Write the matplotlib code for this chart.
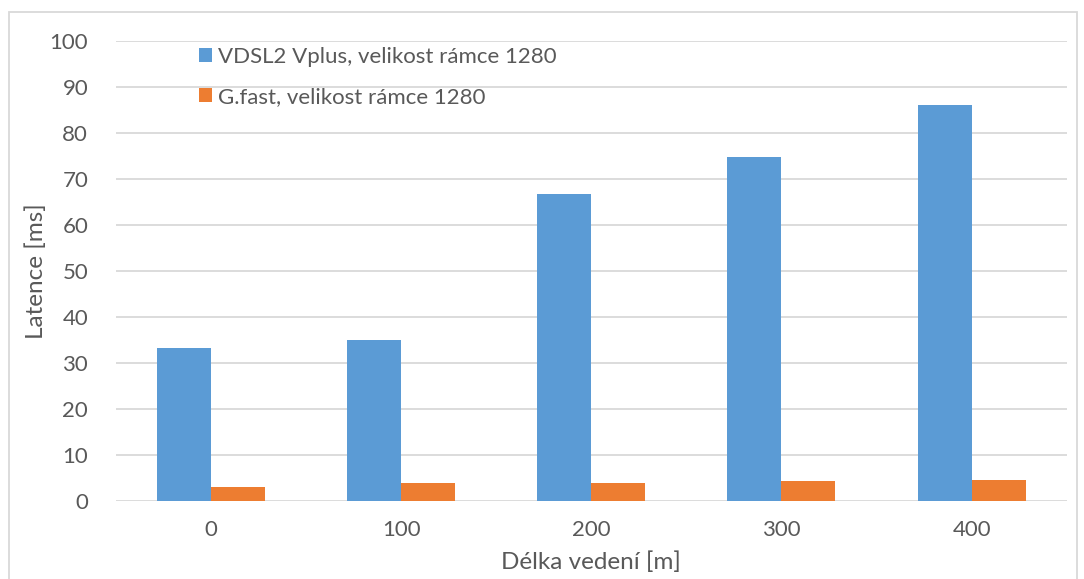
import matplotlib.pyplot as plt
import matplotlib.patches as mpatches
import numpy as np

categories = ["0", "100", "200", "300", "400"]
vdsl2 = [33.3, 35.0, 66.7, 74.8, 86.1]
gfast = [3.0, 3.9, 3.9, 4.3, 4.6]
series_names = ["VDSL2 Vplus, velikost rámce 1280", "G.fast, velikost rámce 1280"]

plt.rcParams["font.family"] = ["Lato", "DejaVu Sans"]
text_color = "#595959"
grid_color = "#d9d9d9"
colors = ["#5b9bd5", "#ed7d31"]

fig = plt.figure(figsize=(10.84, 5.79), dpi=100)
ax = fig.add_axes([0.107, 0.1347, 0.877, 0.7945])

# chart border
fig.patches.append(mpatches.Rectangle((9 / 1084, -0.01), 1068 / 1084, 1 - 12 / 579 + 0.01,
                                      transform=fig.transFigure, fill=False,
                                      edgecolor=grid_color, linewidth=1.3))

x = np.arange(len(categories))
w = 0.284
ax.bar(x - w / 2, vdsl2, w, color=colors[0], label=series_names[0], zorder=3)
ax.bar(x + w / 2, gfast, w, color=colors[1], label=series_names[1], zorder=3)

ax.set_xlim(-0.5, len(categories) - 0.5)
ax.set_ylim(0, 100)
ax.set_yticks(range(0, 101, 10))
ax.set_xticks(x)
ax.set_xticklabels(categories)
ax.yaxis.grid(True, color=grid_color, linewidth=1.3, zorder=0)
ax.set_axisbelow(True)
for s in ax.spines.values():
    s.set_visible(False)
ax.tick_params(axis="both", length=0, labelsize=16, labelcolor=text_color)
ax.tick_params(axis="y", pad=20)
ax.tick_params(axis="x", pad=14)

ax.set_ylabel("Latence [ms]", fontsize=17.5, color=text_color, labelpad=2)
ax.set_xlabel("Délka vedení [m]", fontsize=17.5, color=text_color, labelpad=8)

leg = ax.legend(loc="upper left", bbox_to_anchor=(0.066, 1.03), frameon=False,
                fontsize=16, labelcolor=text_color, handlelength=0.6, handleheight=0.6,
                handletextpad=0.25, labelspacing=0.9)

fig.savefig("out.png", dpi=100)
